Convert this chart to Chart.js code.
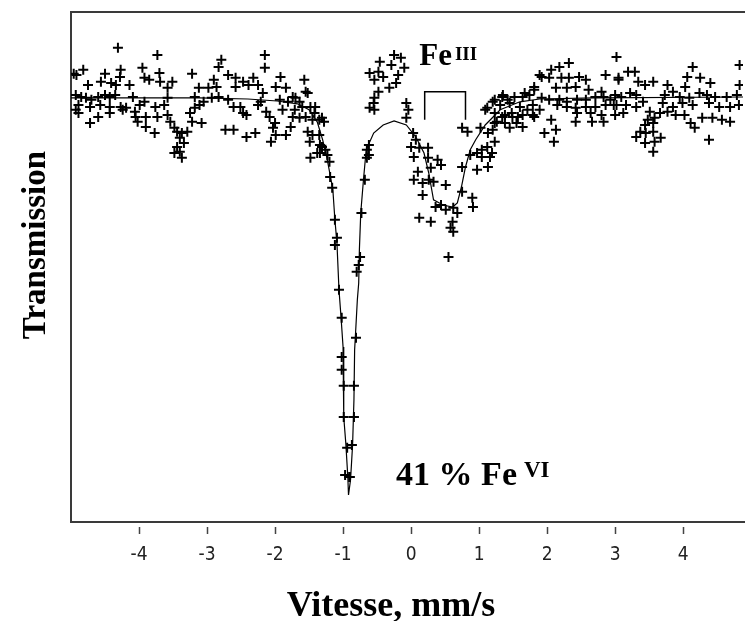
<!DOCTYPE html>
<html><head><meta charset="utf-8">
<script src="https://cdn.jsdelivr.net/npm/chart.js@4.4.1/dist/chart.umd.min.js"></script>
<style>html,body{margin:0;padding:0;background:#fff;overflow:hidden}canvas{display:block}</style>
</head><body>
<canvas id="c" width="750" height="621"></canvas>
<script>
// Measured Mössbauer spectrum (velocity in mm/s, transmission in %)
const measuredVelocity = [
-4.31,-3.73,-3.95,-4.82,-4.96,-4.92,-4.50,-4.27,-4.28,-3.70,-3.22,-4.75,-4.56,-4.41,-4.34,-4.14,-3.92,-3.85,-3.69,-3.58,-3.51,-3.12,
-4.93,-4.85,-4.78,-4.70,-4.60,-4.50,-4.43,-4.35,-4.89,-4.93,-4.72,-4.57,-4.43,-4.27,-4.19,-4.06,-4.09,-3.99,-3.92,-3.76,-3.63,-3.58,
-4.89,-4.60,-4.43,-4.24,-4.05,-4.02,-3.90,-3.73,-3.58,-4.72,-3.90,-3.77,-3.54,-3.48,-3.44,-3.37,-3.29,-3.40,-3.34,-3.44,-3.48,-3.40,-3.37,
-3.25,-3.18,-3.18,-3.11,-3.08,-3.22,
-2.79,-2.83,-2.15,-2.15,-2.69,-2.58,-2.90,-2.98,-2.86,-2.58,-2.47,-2.39,-2.32,-2.25,-1.92,-1.99,-1.84,-1.57,-1.55,
-3.05,-2.93,-2.83,-2.69,-2.61,-2.51,-2.47,-2.42,-2.18,-2.21,-2.25,-2.13,-2.08,-2.00,-1.93,-1.89,-1.81,-1.74,-1.70,-1.64,-1.60,
-1.71,-1.74,-1.64,-1.55,-1.48,-1.41,-1.45,-1.35,-1.28,-2.73,-2.61,-2.42,-2.29,-2.03,-1.99,-1.77,-1.84,-2.06,-1.52,-1.45,-1.35,
-1.49,-1.34,-1.26,-1.38,-1.23,-1.48,-1.20,
-1.52,-1.42,-1.31,-1.31,-1.19,-1.16,
-1.34,-1.12,-1.09,-1.12,-1.06,-1.02,-1.02,-1.02,-0.99,-0.99,-0.94,-0.97,-0.91,
-0.62,-0.65,-0.68,-0.73,-0.75,-0.77,-0.80,-0.81,-0.84,-0.84,-0.87,-0.90,-0.62,-0.65,
-0.25,-0.15,-0.46,-0.29,-0.10,-0.61,-0.48,-0.41,-0.54,-0.19,-0.22,-0.32,-0.48,-0.54,-0.55,-0.61,-0.54,-0.07,-0.04,-0.07,
0.03,0.07,0.00,0.12,0.25,0.04,0.25,0.29,0.39,0.44,0.10,0.04,0.17,0.26,0.33,0.17,0.51,0.36,0.44,0.51,0.62,0.68,
0.12,0.29,0.61,0.58,0.62,0.55,0.75,0.75,0.90,0.91,0.87,0.97,1.04,1.16,1.13,0.75,0.83,1.12,1.02,1.13,
1.04,1.12,1.09,1.23,1.34,1.42,1.52,1.67,1.81,1.92,0.97,1.23,1.34,1.48,1.57,1.71,1.81,
2.32,2.18,2.06,1.89,2.03,2.21,2.32,2.47,2.57,2.86,3.02,3.05,1.81,2.13,2.29,2.42,2.61,2.80,
1.35,1.64,1.74,1.92,2.03,2.18,2.29,2.44,2.57,2.71,2.83,2.93,
1.20,1.31,1.45,1.60,1.79,1.89,2.15,2.29,2.42,2.57,2.71,2.86,2.98,
1.23,1.38,1.49,1.64,1.79,2.44,2.64,2.80,1.26,1.38,1.55,2.06,2.42,2.66,2.83,1.20,1.45,1.64,2.13,1.96,2.10,1.23,1.19,
4.14,3.19,3.29,3.05,4.06,4.25,4.83,3.34,3.44,3.56,3.77,4.03,4.40,4.83,
3.00,3.09,3.22,3.31,3.41,3.73,3.85,3.95,4.09,4.24,4.35,4.47,4.64,4.79,
3.02,3.16,3.31,3.70,3.85,3.99,4.14,4.38,4.53,4.69,4.82,
3.00,3.12,3.51,3.66,3.77,3.89,4.02,3.48,3.58,4.28,4.43,4.57,4.69,4.11,3.44,3.56,4.17,3.37,3.45,3.56,3.31,3.44,3.58,3.67,3.56,4.38
];
const measuredTransmission = [
101.23,101.05,100.73,100.68,100.58,100.55,100.58,100.68,100.50,100.60,100.58,100.30,100.38,100.35,100.30,100.30,100.48,100.43,100.38,100.23,100.38,100.23,
100.05,100.00,99.98,99.93,100.00,100.05,100.00,100.05,99.80,99.68,99.75,99.80,99.75,99.75,99.73,99.63,100.00,99.80,99.88,99.75,99.80,99.98,
99.60,99.50,99.60,99.68,99.50,99.38,99.50,99.50,99.55,99.35,99.25,99.10,99.38,99.23,99.13,99.10,99.13,98.98,98.85,98.75,98.60,98.63,98.48,
99.60,99.73,100.00,99.80,99.35,99.38,
100.93,100.75,101.05,100.73,100.55,100.48,100.43,100.23,100.25,100.25,100.38,100.30,100.48,100.30,100.50,100.25,100.23,100.43,100.13,
99.88,99.98,100.00,99.93,99.75,99.75,99.60,99.55,100.10,99.88,99.80,99.63,99.50,99.35,99.93,99.68,99.88,100.00,99.98,99.88,99.75,
99.68,99.50,99.48,99.50,99.75,99.75,99.43,99.43,99.38,99.18,99.18,99.00,99.10,99.23,99.05,99.25,99.05,98.88,99.13,99.05,99.05,
98.88,98.80,98.68,98.60,98.55,98.48,98.38,
100.10,99.60,99.48,98.75,98.00,97.73,
98.60,96.93,96.48,96.30,95.18,94.48,93.50,93.18,92.78,92.00,91.23,90.55,90.50,
98.55,98.48,97.93,97.10,96.00,95.80,95.63,93.98,92.78,92.00,91.30,90.50,98.80,98.68,
101.05,100.98,100.88,100.80,100.73,100.60,100.63,100.50,100.43,100.55,100.35,100.23,100.13,99.98,99.85,99.73,99.68,99.85,99.68,99.48,
99.10,98.93,98.75,98.73,98.73,98.50,98.48,98.23,98.43,98.30,98.13,97.93,97.85,97.93,97.88,97.55,97.80,97.25,97.30,97.18,97.23,97.10,
96.98,96.88,96.88,96.73,96.63,96.00,98.25,97.63,97.48,97.25,98.55,98.60,98.68,98.50,98.25,99.23,99.13,99.73,99.23,99.10,
98.50,98.75,99.68,99.93,100.00,99.93,100.00,100.10,100.18,100.50,98.18,99.35,99.50,99.60,99.50,99.68,99.50,
100.85,100.75,100.68,100.55,100.48,100.48,100.48,100.50,100.43,100.55,101.00,100.43,100.25,100.23,100.23,100.25,100.18,100.13,
100.05,100.00,100.05,99.98,99.93,99.93,99.88,99.93,99.93,100.00,100.00,99.93,
99.88,99.80,99.85,99.75,99.80,99.68,99.80,99.75,99.73,99.75,99.75,99.80,99.80,
99.60,99.55,99.50,99.55,99.55,99.60,99.60,99.55,99.38,99.35,99.35,99.43,99.38,99.38,99.38,99.18,99.23,99.25,99.18,99.10,98.88,98.88,98.60,
100.75,100.63,100.63,100.48,100.50,100.48,100.80,100.38,100.30,100.38,100.30,100.25,100.35,100.30,
100.05,100.00,100.10,100.05,99.88,100.05,100.13,100.00,99.98,100.10,100.05,100.00,100.00,100.05,
99.80,99.80,99.75,99.85,99.75,99.85,99.80,99.85,99.75,99.75,99.80,
99.55,99.60,99.63,99.60,99.63,99.55,99.55,99.43,99.48,99.48,99.48,99.43,99.38,99.35,99.30,99.35,99.23,99.13,99.10,99.13,99.00,98.85,98.88,98.98,98.63,98.93
];
// Fitted curve
const fitVelocity = [-5.00,-3.12,-2.40,-1.97,-1.67,-1.50,-1.38,-1.30,-1.24,-1.19,-1.15,-1.12,-1.09,-1.06,-1.03,-1.00,-0.99,-0.96,-0.93,-0.92,
-0.89,-0.86,-0.84,-0.83,-0.82,-0.79,-0.77,-0.76,-0.74,-0.70,-0.66,-0.55,-0.41,-0.25,-0.07,0.07,0.19,0.26,0.33,0.47,0.61,0.68,0.74,0.80,0.87,0.95,1.09,1.31,1.60,1.89,2.69,4.88];
const fitTransmission = [99.98,99.98,99.95,99.90,99.83,99.68,99.38,98.93,98.50,98.05,97.68,96.93,96.35,95.18,94.50,93.75,92.00,91.35,90.50,90.05,
90.43,91.30,92.43,93.68,93.98,94.93,95.35,96.18,97.10,97.93,98.68,99.10,99.30,99.40,99.30,99.00,98.60,98.10,97.43,97.30,97.25,97.35,97.75,98.25,98.68,98.93,99.30,99.68,99.88,99.95,99.98,100.00];
// Fe(III) doublet bracket
const bracketVelocity = [0.20, 0.20, 0.80, 0.80];
const bracketTransmission = [99.43, 100.13, 100.13, 99.43];
const velocityTicks = [-4, -3, -2, -1, 0, 1, 2, 3, 4];
const xTitle = 'Vitesse, mm/s';
const yTitle = 'Transmission';

const pts = (xs, ys) => xs.map((v, i) => ({x: v, y: ys[i]}));
const SERIF = '"Liberation Serif", "Times New Roman", serif';

const decor = {
  id: 'decor',
  beforeDatasetsDraw(chart) {
    const {ctx, chartArea: a, scales: {x}} = chart;
    ctx.save();
    ctx.strokeStyle = '#3a3a3a';
    ctx.lineWidth = 2;
    ctx.beginPath();
    ctx.moveTo(a.right + 2, a.top); ctx.lineTo(a.left, a.top);
    ctx.lineTo(a.left, a.bottom); ctx.lineTo(a.right + 2, a.bottom);
    ctx.stroke();
    ctx.lineWidth = 1.5;
    ctx.strokeStyle = '#444';
    ctx.beginPath();
    velocityTicks.forEach(v => {
      const px = Math.round(x.getPixelForValue(v)) + 0.5;
      ctx.moveTo(px, a.bottom + 5); ctx.lineTo(px, a.bottom + 12);
    });
    ctx.stroke();
    ctx.restore();
  },
  afterDraw(chart) {
    const {ctx, scales: {x, y}} = chart;
    ctx.save();
    ctx.fillStyle = '#000';
    ctx.textAlign = 'center';
    ctx.textBaseline = 'alphabetic';
    ctx.font = 'bold 36px ' + SERIF;
    ctx.fillText(xTitle, 391, 616);
    ctx.font = 'bold 33px ' + SERIF;
    ctx.save();
    ctx.translate(45, 245);
    ctx.rotate(-Math.PI / 2);
    ctx.fillText(yTitle, 0, 0);
    ctx.restore();
    // Fe III label
    ctx.textAlign = 'left';
    let px = x.getPixelForValue(0.12), py = y.getPixelForValue(100.8);
    ctx.font = 'bold 31px ' + SERIF;
    ctx.fillText('Fe', px, py);
    let w = ctx.measureText('Fe').width;
    ctx.font = 'bold 19px ' + SERIF;
    ctx.fillText('III', px + w + 3, py - 5);
    // 41 % Fe VI label
    px = x.getPixelForValue(-0.22); py = y.getPixelForValue(90.3);
    ctx.font = 'bold 34px ' + SERIF;
    ctx.fillText('41 % Fe', px, py);
    w = ctx.measureText('41 % Fe').width;
    ctx.font = 'bold 23px ' + SERIF;
    ctx.fillText('VI', px + w + 7, py - 8);
    ctx.restore();
  }
};

new Chart(document.getElementById('c'), {
  type: 'scatter',
  data: {
    datasets: [
      { label: 'Mesure', data: pts(measuredVelocity, measuredTransmission), showLine: false,
        pointStyle: 'cross', pointRadius: 5, pointBorderWidth: 2, borderColor: '#000', backgroundColor: '#000' },
      { label: 'Ajustement', data: pts(fitVelocity, fitTransmission), showLine: true, pointRadius: 0,
        borderColor: '#000', borderWidth: 1.2, tension: 0 },
      { label: 'FeIII', data: pts(bracketVelocity, bracketTransmission), showLine: true, pointRadius: 0,
        borderColor: '#000', borderWidth: 1.5, tension: 0 }
    ]
  },
  options: {
    responsive: false, animation: false, devicePixelRatio: 1,
    layout: { padding: { top: 12, left: 0, right: 0, bottom: 0 } },
    plugins: { legend: { display: false }, tooltip: { enabled: false } },
    scales: {
      x: {
        type: 'linear', min: -5, max: 4.88,
        afterBuildTicks: s => { s.ticks = velocityTicks.map(v => ({ value: v })); },
        afterFit: s => { s.height = 99; },
        grid: { display: false, drawTicks: false }, border: { display: false },
        ticks: { color: '#222', padding: 22, font: { family: '"Liberation Sans Narrow", "DejaVu Sans Condensed", sans-serif', size: 19 } }
      },
      y: {
        min: 89.375, max: 102.125,
        afterFit: s => { s.width = 71; },
        grid: { display: false, drawTicks: false }, border: { display: false },
        ticks: { display: false }
      }
    }
  },
  plugins: [decor]
});
</script>
</body></html>
